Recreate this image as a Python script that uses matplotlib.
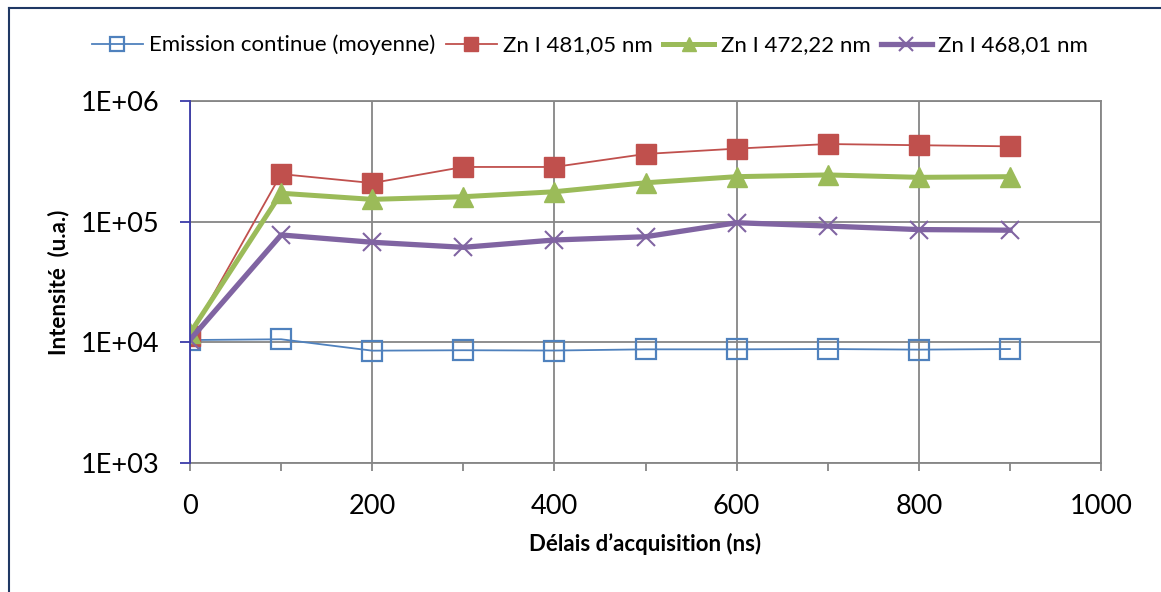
import matplotlib
matplotlib.use('Agg')
import matplotlib.pyplot as plt
from matplotlib.lines import Line2D
from matplotlib.ticker import FixedLocator, NullLocator, FixedFormatter, MultipleLocator

plt.rcParams['font.family'] = ['Lato', 'DejaVu Sans']

# ---- data ----
delays = [0, 100, 200, 300, 400, 500, 600, 700, 800, 900]
continuum = [10450, 10600, 8530, 8600, 8550, 8750, 8750, 8800, 8700, 8800]
zn481 = [11300, 248000, 209000, 284000, 284000, 364000, 403000, 440000, 430000, 421000]
zn472 = [11900, 172000, 153000, 161000, 177000, 210000, 236000, 244000, 233000, 236000]
zn468 = [10500, 77600, 67500, 61300, 70500, 75000, 98000, 92000, 86000, 85000]
labels = ["Emission continue (moyenne)", "Zn I 481,05 nm", "Zn I 472,22 nm", "Zn I 468,01 nm"]
ytick_vals = [1e3, 1e4, 1e5, 1e6]
ytick_labels = ["1E+03", "1E+04", "1E+05", "1E+06"]
xtick_vals = [0, 200, 400, 600, 800, 1000]

W, H = 1161, 592
fig = plt.figure(figsize=(W / 100, H / 100), dpi=100)
ax = fig.add_axes([190 / W, 1 - 463 / H, (1101 - 190) / W, (463 - 101) / H])

grid_c = '#868686'
navy = '#3A3AA8'

ax.plot(delays, continuum, color='#4F81BD', lw=1.3, marker='s', ms=15,
        mfc='none', mec='#4F81BD', mew=1.6, label=labels[0], zorder=3)
ax.plot(delays, zn481, color='#C0504D', lw=1.3, marker='s', ms=15,
        mfc='#C0504D', mec='#C0504D', mew=1, label=labels[1], zorder=4)
ax.plot(delays, zn472, color='#9BBB59', lw=3.6, marker='^', ms=15,
        mfc='#9BBB59', mec='#9BBB59', mew=1, label=labels[2], zorder=5)
ax.plot(delays, zn468, color='#8064A2', lw=3.8, marker='x', ms=13.5,
        mec='#8064A2', mew=1.5, label=labels[3], zorder=6)

ax.set_yscale('log')
ax.set_ylim(1e3, 1e6)
ax.set_xlim(0, 1000)
ax.yaxis.set_major_locator(FixedLocator(ytick_vals))
ax.yaxis.set_major_formatter(FixedFormatter(ytick_labels))
ax.yaxis.set_minor_locator(NullLocator())
ax.xaxis.set_major_locator(FixedLocator(xtick_vals))
ax.xaxis.set_minor_locator(MultipleLocator(100))

ax.grid(True, which='major', color=grid_c, lw=1.3)
ax.set_axisbelow(True)
for s in ['top', 'right', 'bottom']:
    ax.spines[s].set_color(grid_c)
    ax.spines[s].set_linewidth(1.3)
ax.spines['left'].set_color(navy)
ax.spines['left'].set_linewidth(1.3)
ax.spines['left'].set_zorder(7)

ax.tick_params(axis='y', which='major', length=7, width=1.3, color=navy,
               labelsize=19.5, pad=15)
ax.tick_params(axis='x', which='both', length=6, width=1.3, color=grid_c,
               labelsize=19.5, pad=16)

ax.set_xlabel("Délais d’acquisition (ns)", fontsize=16, fontweight='bold', labelpad=10)
ax.set_ylabel("Intensité  (u.a.)", fontsize=16, fontweight='bold', labelpad=8)

leg = fig.legend(loc='center', bbox_to_anchor=(590 / W, 1 - 45 / H), ncol=4,
                 frameon=False, fontsize=16, handlelength=2.3, handletextpad=0.3,
                 columnspacing=0.45, markerscale=0.7)

# figure border (left and top)
fig.add_artist(Line2D([9 / W, 9 / W], [0, 1 - 8 / H], color='#1F3864', lw=1.5))
fig.add_artist(Line2D([9 / W, 1], [1 - 8 / H, 1 - 8 / H], color='#1F3864', lw=1.5))

fig.savefig('out.png', dpi=100)
